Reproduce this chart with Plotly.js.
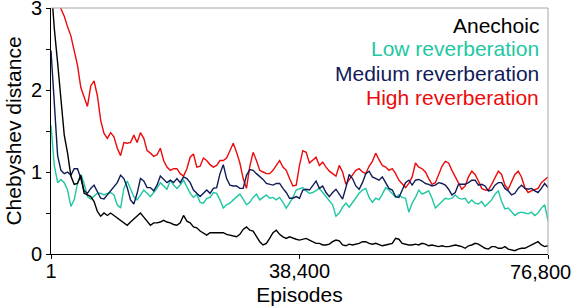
<!DOCTYPE html>
<html>
<head>
<meta charset="utf-8">
<script src="https://cdn.plot.ly/plotly-3.0.1.min.js"></script>
<style>html,body{margin:0;padding:0;background:#fff;}#chart{width:574px;height:308px;}</style>
</head>
<body>
<div id="chart"></div>
<script>
// ---- data ----
const seriesNames = ["Anechoic", "Low reverberation", "Medium reverberation", "High reverberation"];
const firstEpisode = 1;
const lastEpisode = 76800;

const anechoic = [3.3,2.75,2.33,1.90,1.45,1.23,0.95,0.85,0.86,0.96,0.74,0.72,0.70,0.64,0.52,0.46,0.50,0.47,0.50,0.47,
0.44,0.40,0.38,0.35,0.39,0.43,0.47,0.50,0.45,0.40,0.35,0.38,0.38,0.39,0.41,0.39,0.38,0.36,0.35,0.38,
0.47,0.40,0.38,0.33,0.32,0.28,0.26,0.23,0.26,0.26,0.26,0.26,0.26,0.24,0.23,0.22,0.21,0.24,0.30,0.33,
0.29,0.28,0.22,0.15,0.11,0.13,0.19,0.26,0.29,0.24,0.21,0.19,0.21,0.19,0.18,0.17,0.18,0.19,0.17,0.15,
0.13,0.13,0.11,0.11,0.12,0.15,0.17,0.16,0.11,0.10,0.12,0.11,0.12,0.13,0.15,0.15,0.13,0.12,0.13,0.11,
0.10,0.11,0.12,0.13,0.19,0.18,0.13,0.12,0.11,0.11,0.12,0.11,0.13,0.12,0.10,0.11,0.10,0.09,0.10,0.09,
0.09,0.10,0.11,0.10,0.09,0.07,0.10,0.11,0.13,0.12,0.09,0.07,0.06,0.09,0.09,0.07,0.07,0.09,0.06,0.05,
0.04,0.06,0.07,0.07,0.09,0.11,0.13,0.15,0.11,0.09,0.10];

const lowReverb = [1.57,1.08,0.87,0.91,0.87,0.78,0.58,0.66,0.86,0.97,0.86,0.70,0.67,0.70,0.74,0.74,0.72,0.74,0.75,0.72,
0.60,0.56,0.80,0.89,0.80,0.70,0.66,0.72,0.78,0.74,0.70,0.75,0.80,0.87,0.83,0.79,0.90,0.84,0.80,0.84,
0.90,0.81,0.74,0.69,0.73,0.63,0.62,0.68,0.69,0.75,0.74,0.66,0.56,0.60,0.62,0.66,0.69,0.73,0.67,0.60,
0.63,0.69,0.73,0.66,0.69,0.72,0.68,0.69,0.66,0.69,0.63,0.56,0.62,0.69,0.78,0.80,0.81,0.77,0.74,0.75,
0.78,0.80,0.75,0.70,0.66,0.60,0.46,0.50,0.57,0.62,0.57,0.63,0.69,0.74,0.78,0.80,0.69,0.63,0.68,0.66,
0.73,0.81,0.78,0.74,0.69,0.72,0.69,0.68,0.51,0.62,0.69,0.78,0.73,0.75,0.77,0.68,0.56,0.60,0.64,0.68,
0.67,0.68,0.72,0.68,0.67,0.68,0.62,0.66,0.62,0.61,0.64,0.58,0.62,0.66,0.73,0.77,0.64,0.55,0.56,0.52,
0.47,0.50,0.51,0.50,0.49,0.51,0.47,0.50,0.56,0.60,0.41];

const mediumReverb = [2.48,1.81,1.20,1.02,0.98,1.00,0.96,1.04,1.04,0.92,0.77,0.74,0.80,0.84,0.75,0.68,0.67,0.72,0.78,0.83,
0.87,0.96,0.92,0.81,0.66,0.61,0.74,0.92,0.89,0.81,0.81,0.77,0.84,0.95,0.91,0.87,0.90,0.87,0.92,0.87,
0.94,0.92,0.87,0.78,0.74,0.70,0.74,0.78,0.74,0.80,0.81,0.98,1.09,0.92,0.84,0.83,0.83,0.80,0.80,0.96,
1.03,1.02,0.98,0.95,0.91,0.86,0.85,0.84,0.86,0.86,0.80,0.75,0.68,0.68,0.70,0.68,0.78,0.79,0.78,0.83,
0.89,0.80,0.83,0.75,0.70,0.75,0.79,0.73,0.67,0.81,0.97,0.92,0.83,0.79,0.87,0.98,1.01,0.94,0.92,0.90,
0.94,0.87,0.80,0.78,0.70,0.69,0.78,0.87,0.90,0.84,0.90,0.91,0.89,0.86,0.85,0.83,0.84,0.87,0.86,0.84,
0.79,0.72,0.75,0.85,0.85,0.85,0.87,0.90,0.90,0.84,0.85,0.83,0.77,0.78,0.84,0.87,0.87,0.80,0.77,0.72,
0.74,0.80,0.84,0.80,0.79,0.80,0.77,0.75,0.80,0.86,0.81];

const highReverb = [4.0,3.6,3.25,2.99,2.90,2.77,2.66,2.48,2.30,2.03,1.90,1.80,2.05,2.11,1.93,1.63,1.47,1.41,1.48,1.43,
1.29,1.20,1.36,1.35,1.36,1.45,1.36,1.48,1.41,1.26,1.23,1.19,1.21,1.29,1.14,1.06,1.02,1.04,1.04,0.98,
0.95,1.04,1.18,1.22,1.06,1.07,1.17,1.14,1.09,1.06,1.08,1.14,1.14,1.17,1.26,1.35,1.24,1.11,0.92,0.80,
1.07,1.24,1.14,1.02,1.00,0.98,0.98,1.02,1.08,1.14,1.06,1.02,0.92,0.83,0.84,1.08,1.26,1.24,1.11,1.14,
1.18,1.08,1.12,1.06,1.01,0.98,0.95,1.08,1.00,0.85,0.91,0.96,1.02,1.04,1.00,0.98,1.07,1.13,1.23,1.15,
1.08,1.06,1.02,1.04,0.98,0.90,0.86,0.81,0.86,0.94,1.11,1.06,1.04,1.00,0.92,0.85,0.87,0.98,1.07,1.13,
1.11,1.02,0.94,0.85,0.79,0.83,0.94,1.01,0.97,0.89,0.80,0.78,0.78,0.85,0.94,1.01,0.97,0.84,0.79,0.87,
0.97,1.01,0.94,0.81,0.75,0.77,0.79,0.80,0.87,0.90,0.94];

const yTickVals = [0, 0.5, 1, 1.5, 2, 2.5, 3];
const yTickText = ["0", "", "1", "", "2", "", "3"];
const xTickVals = [1, 38400, 76800];
const xTickText = ["1", "38,400", "76,800"];

// ---- styling ----
const colors = ["#000000", "#1fc7a2", "#101b58", "#ec0a0a"];
const legendY = [0.927, 0.834, 0.733, 0.636];
const FONT = "Liberation Sans, Arial, sans-serif";

const allSeries = [anechoic, lowReverb, mediumReverb, highReverb];
const traces = allSeries.map((vals, k) => {
  const step = (lastEpisode - firstEpisode) / (vals.length - 1);
  return {
    type: "scatter",
    mode: "lines",
    name: seriesNames[k],
    x: vals.map((_, i) => firstEpisode + i * step),
    y: vals,
    line: {color: colors[k], width: 1.4},
    hoverinfo: "skip"
  };
});
// draw order: red, teal, navy, black
const ordered = [traces[3], traces[1], traces[2], traces[0]];

const annotations = seriesNames.map((name, k) => ({
  xref: "paper", yref: "paper",
  x: 0.986, y: legendY[k],
  xanchor: "right", yanchor: "middle",
  text: name, showarrow: false,
  font: {family: FONT, size: 21, color: colors[k]}
}));
// the last x tick label is pushed inside the figure (right-aligned to the edge), as in the reference
const lastTick = xTickVals.length - 1;
annotations.push({
  xref: "x", yref: "paper",
  x: xTickVals[lastTick], y: 0,
  xanchor: "right", yanchor: "top",
  xshift: 25, yshift: -5,
  text: xTickText[lastTick], showarrow: false,
  font: {family: FONT, size: 20, color: "#000"}
});
const axisTickText = xTickText.map((t, i) => (i === lastTick ? "" : t));

const layout = {
  width: 574, height: 308,
  margin: {l: 51, r: 26, t: 8, b: 54},
  paper_bgcolor: "#ffffff", plot_bgcolor: "#ffffff",
  showlegend: false,
  font: {family: FONT, size: 21, color: "#000"},
  xaxis: {
    range: [firstEpisode, lastEpisode],
    tickmode: "array", tickvals: xTickVals, ticktext: axisTickText,
    ticks: "outside", ticklen: 4, tickcolor: "#000", tickwidth: 1,
    ticklabeloverflow: "allow", ticklabelstandoff: -5,
    showline: true, linecolor: "#000", linewidth: 1,
    showgrid: false, zeroline: false,
    tickfont: {family: FONT, size: 20, color: "#000"},
    title: {text: "Episodes", font: {family: FONT, size: 21, color: "#000"}, standoff: 6}
  },
  yaxis: {
    range: [0, 3],
    tickmode: "array", tickvals: yTickVals, ticktext: yTickText,
    ticks: "outside", ticklen: 4, tickcolor: "#000", tickwidth: 1,
    ticklabeloverflow: "allow",
    showline: true, linecolor: "#000", linewidth: 1,
    showgrid: false, zeroline: false,
    tickfont: {family: FONT, size: 20, color: "#000"},
    title: {text: "Chebyshev distance", font: {family: FONT, size: 21, color: "#000"}, standoff: 3}
  },
  shapes: [
    {type: "line", xref: "paper", yref: "paper", x0: 0, x1: 1, y0: 1, y1: 1, line: {color: "#a6a6a6", width: 1}},
    {type: "line", xref: "paper", yref: "paper", x0: 1, x1: 1, y0: 0, y1: 1, line: {color: "#a6a6a6", width: 1}}
  ],
  annotations: annotations
};

Plotly.newPlot("chart", ordered, layout, {displayModeBar: false, staticPlot: true});
</script>
</body>
</html>
